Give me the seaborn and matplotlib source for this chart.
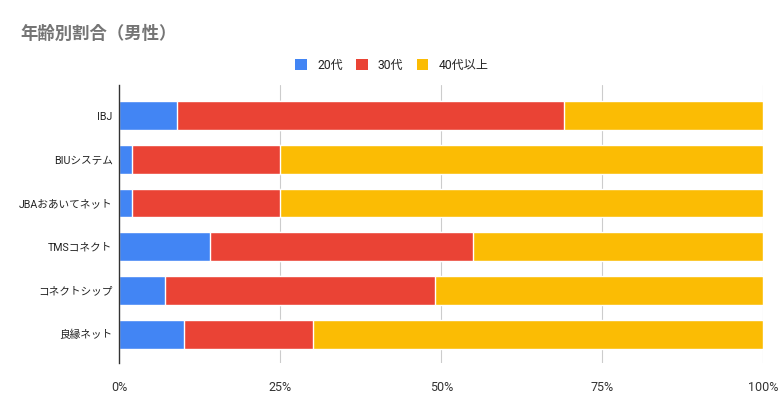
import numpy as np
import pandas as pd
import matplotlib
matplotlib.use("Agg")
import matplotlib.pyplot as plt
import seaborn as sns
from matplotlib.patches import Patch

# Dados (percentual por faixa etária)
empresas = ["IBJ", "BIUシステム", "JBAおあいてネット", "TMSコネクト", "コネクトシップ", "良縁ネット"]
idade_20 = [9, 2, 2, 14, 7, 10]
idade_30 = [60, 23, 23, 41, 42, 20]
idade_40 = [31, 75, 75, 45, 51, 70]
faixas = ["20代", "30代", "40代以上"]
cores = ["#4285F4", "#EA4335", "#FBBC04"]
ticks_x = [0, 25, 50, 75, 100]

sns.set_style("white")
plt.rcParams["font.family"] = ["Roboto", "Noto Sans CJK JP", "DejaVu Sans"]

df = pd.DataFrame({"empresa": empresas, "a20": idade_20, "a30": idade_30, "a40": idade_40})
# Acumulados para empilhar (desenha do maior para o menor)
df["c20"] = df["a20"]
df["c30"] = df["a20"] + df["a30"]
df["c40"] = df["a20"] + df["a30"] + df["a40"]

fig = plt.figure(figsize=(7.84, 4.04), dpi=100)
ax = fig.add_axes([0.1524, 0.1015, 0.8208, 0.688])

for col, cor in zip(["c40", "c30", "c20"], cores[::-1]):
    sns.barplot(data=df, x=col, y="empresa", color=cor, orient="h",
                width=0.66, saturation=1, ax=ax, zorder=3)

ax.set_xlim(0, 100)
ax.set_ylim(5.66, -0.70)
ax.set_xticks(ticks_x)
ax.set_xticklabels([f"{t}%" for t in ticks_x], fontsize=9, color="#333333")
ax.tick_params(axis="y", labelsize=7.7, labelcolor="#222222", length=0, pad=5)
ax.tick_params(axis="x", length=0, pad=13)
ax.set_xlabel("")
ax.set_ylabel("")
for s in ["top", "right", "bottom"]:
    ax.spines[s].set_visible(False)
ax.spines["left"].set_color("#333333")
ax.spines["left"].set_linewidth(1)
ax.spines["left"].set_zorder(5)
for t in ticks_x[1:]:
    ax.axvline(t, color="#CCCCCC", linewidth=0.8, zorder=1)

# Título
fig.text(20 / 784, 1 - 33 / 404, "年齢別割合（男性）", fontsize=12.5, fontweight="bold",
         color="#757575", va="center", ha="left")

# Legenda
handles = [Patch(facecolor=c, edgecolor="none") for c in cores]
fig.legend(handles, faixas, loc="center", bbox_to_anchor=(0.5, 1 - 65 / 404), ncol=3,
           frameon=False, fontsize=8.7, handlelength=0.95, handleheight=0.95,
           handletextpad=0.85, columnspacing=1.1, labelcolor="#222222")

fig.savefig("out.png", dpi=100)
